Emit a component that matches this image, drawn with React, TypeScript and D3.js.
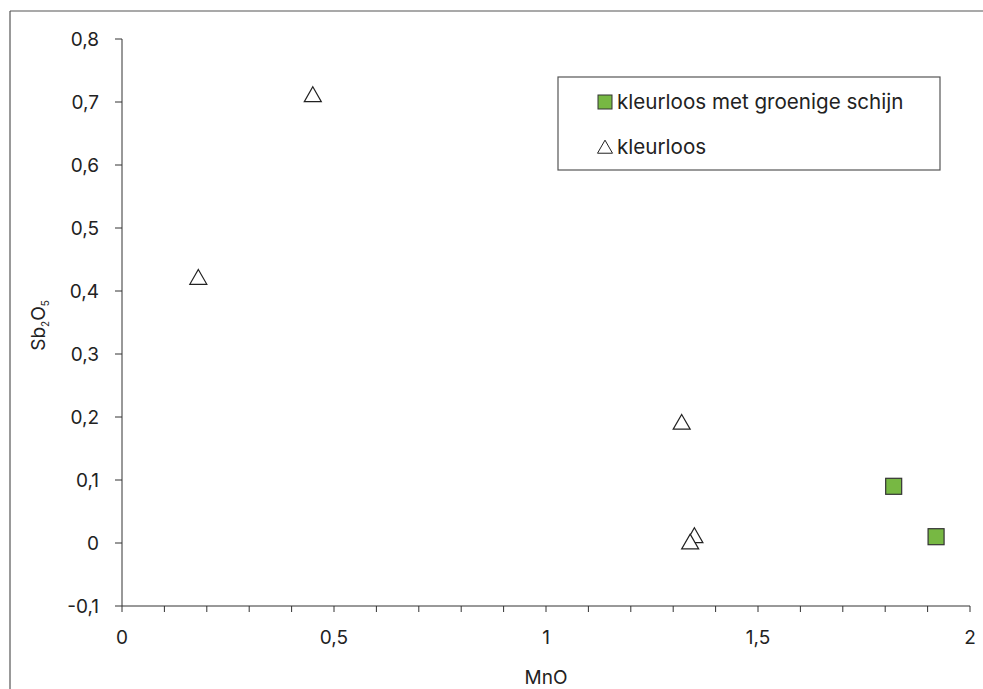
import React from "react";
import * as d3 from "d3";

const greenX = [1.82, 1.92];
const greenY = [0.09, 0.01];
const clearX = [0.18, 0.45, 1.32, 1.35, 1.34];
const clearY = [0.42, 0.71, 0.19, 0.01, 0.0];
const xTicks = [0, 0.5, 1, 1.5, 2];
const yTicks = [-0.1, 0, 0.1, 0.2, 0.3, 0.4, 0.5, 0.6, 0.7, 0.8];
const seriesNames = ["kleurloos met groenige schijn", "kleurloos"];

const W = 983;
const H = 689;
const FONT = "Inter, Roboto, sans-serif";
const TXT = "#222";

export default function App() {
  const x = d3.scaleLinear().domain([0, 2]).range([122, 970]);
  const y = d3.scaleLinear().domain([-0.1, 0.8]).range([606, 39]);
  const minor = d3.range(0, 2.0001, 0.1);
  const fmt = (v: number) => String(Math.round(v * 10) / 10).replace(".", ",");
  const tri = (cx: number, cy: number, s = 17) => {
    const h = s * 0.87;
    return `M${cx},${cy - h * 0.6}L${cx + s / 2},${cy + h * 0.4}L${cx - s / 2},${cy + h * 0.4}Z`;
  };
  return (
    <svg width={W} height={H} style={{ position: "absolute", left: 0, top: 0, background: "#fff" }} fontFamily={FONT}>
      <line x1={10} y1={11} x2={W} y2={11} stroke="#555" strokeWidth={1.2} />
      <line x1={10} y1={11} x2={10} y2={H} stroke="#555" strokeWidth={1.2} />
      {/* y axis */}
      <line x1={x(0)} y1={y(0.8)} x2={x(0)} y2={y(-0.1)} stroke="#333" />
      {yTicks.map((t) => (
        <g key={"y" + t}>
          <line x1={x(0) - 7} x2={x(0)} y1={y(t)} y2={y(t)} stroke="#333" />
          <text x={99} y={y(t)} dy="0.36em" textAnchor="end" fontSize={19} fill={TXT}>
            {fmt(t)}
          </text>
        </g>
      ))}
      {/* x axis */}
      <line x1={x(0)} y1={y(-0.1)} x2={x(2)} y2={y(-0.1)} stroke="#333" />
      {minor.map((t) => (
        <line key={"m" + t} x1={x(t)} x2={x(t)} y1={y(-0.1)} y2={y(-0.1) + 6} stroke="#333" />
      ))}
      {xTicks.map((t) => (
        <text key={"x" + t} x={x(t)} y={644} textAnchor="middle" fontSize={19} fill={TXT}>
          {fmt(t)}
        </text>
      ))}
      <text x={x(1)} y={684} textAnchor="middle" fontSize={19} fill={TXT}>MnO</text>
      <text transform={`translate(45,${(y(0.8) + y(-0.1)) / 2 + 3}) rotate(-90)`} textAnchor="middle" fontSize={19} fill={TXT}>
        Sb<tspan fontSize={10} dy={4}>2</tspan><tspan dy={-4}>O</tspan><tspan fontSize={10} dy={4}>5</tspan>
      </text>
      {/* data */}
      {clearX.map((v, i) => (
        <path key={"c" + i} d={tri(x(v), y(clearY[i]))} fill="#fff" stroke="#222" strokeWidth={1.2} />
      ))}
      {greenX.map((v, i) => (
        <rect key={"g" + i} x={x(v) - 8} y={y(greenY[i]) - 8} width={16} height={16} fill="#77b843" stroke="#333" strokeWidth={1.2} />
      ))}
      {/* legend */}
      <rect x={558} y={77} width={382} height={93} fill="#fff" stroke="#555" strokeWidth={1.2} />
      <rect x={598} y={95} width={14} height={14} fill="#77b843" stroke="#333" />
      <text x={617} y={109} fontSize={20.6} fill={TXT}>{seriesNames[0]}</text>
      <path d={tri(605, 148, 15)} fill="#fff" stroke="#222" />
      <text x={617} y={154} fontSize={20.6} fill={TXT}>{seriesNames[1]}</text>
    </svg>
  );
}
